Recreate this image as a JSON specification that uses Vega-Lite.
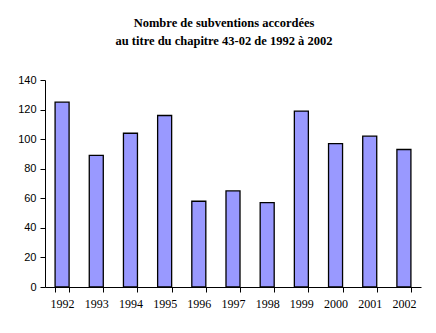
{
  "$schema": "https://vega.github.io/schema/vega-lite/v6.json",
  "width": 376,
  "height": 207,
  "autosize": {"type": "none"},
  "padding": {"left": 45, "top": 80, "right": 15, "bottom": 46},
  "background": "white",
  "title": {
    "text": ["Nombre de subventions accordées", "au titre du chapitre 43-02 de 1992 à 2002"],
    "font": "Liberation Serif",
    "fontSize": 12.5,
    "fontWeight": "bold",
    "color": "black",
    "anchor": "middle",
    "offset": 27,
    "dx": -9,
    "lineHeight": 18
  },
  "data": {
    "values": [
      {"annee": "1992", "nombre": 125},
      {"annee": "1993", "nombre": 89},
      {"annee": "1994", "nombre": 104},
      {"annee": "1995", "nombre": 116},
      {"annee": "1996", "nombre": 58},
      {"annee": "1997", "nombre": 65},
      {"annee": "1998", "nombre": 57},
      {"annee": "1999", "nombre": 119},
      {"annee": "2000", "nombre": 97},
      {"annee": "2001", "nombre": 102},
      {"annee": "2002", "nombre": 93}
    ]
  },
  "mark": {"type": "bar", "color": "#9999FF", "stroke": "black", "strokeWidth": 1.3},
  "encoding": {
    "x": {
      "field": "annee",
      "type": "ordinal",
      "scale": {"paddingInner": 0.59, "paddingOuter": 0.295},
      "axis": {
        "title": null,
        "tickBand": "extent",
        "labelAngle": 0,
        "labelFont": "Liberation Serif",
        "labelFontSize": 12,
        "labelColor": "black",
        "labelPadding": 6,
        "domainColor": "black",
        "tickColor": "black",
        "tickSize": 5
      }
    },
    "y": {
      "field": "nombre",
      "type": "quantitative",
      "scale": {"domain": [0, 140]},
      "axis": {
        "title": null,
        "values": [0, 20, 40, 60, 80, 100, 120, 140],
        "grid": false,
        "labelFont": "Liberation Sans",
        "labelFontSize": 11,
        "labelColor": "black",
        "labelPadding": 4,
        "domainColor": "black",
        "tickColor": "black",
        "tickSize": 5
      }
    }
  },
  "config": {"view": {"stroke": null}}
}
